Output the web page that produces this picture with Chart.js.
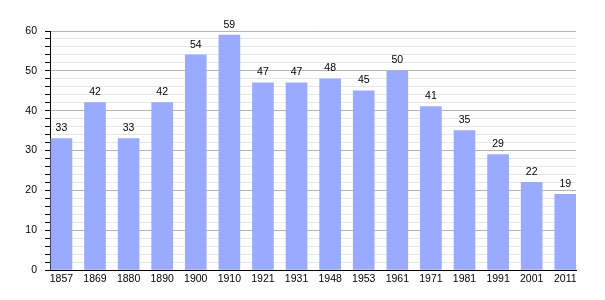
<!DOCTYPE html>
<html>
<head>
<meta charset="utf-8">
<script src="https://cdn.jsdelivr.net/npm/chart.js@4/dist/chart.umd.min.js"></script>
<style>
  html,body{margin:0;padding:0;background:#fff;}
  #wrap{width:605px;height:300px;}
</style>
</head>
<body>
<div id="wrap"><canvas id="c" width="605" height="300"></canvas></div>
<script>
const years = ['1857','1869','1880','1890','1900','1910','1921','1931','1948','1953','1961','1971','1981','1991','2001','2011'];
const population = [33,42,33,42,54,59,47,47,48,45,50,41,35,29,22,19];
const yMin = 0, yMax = 60, yStep = 2, yMajor = 10;

const font = { family: '"Liberation Sans", Arial, sans-serif', size: 10.5 };

// number above each bar
const valueLabels = {
  id: 'valueLabels',
  afterDatasetsDraw(chart){
    const ctx = chart.ctx;
    const meta = chart.getDatasetMeta(0);
    ctx.save();
    ctx.font = `${font.size}px ${font.family}`;
    ctx.fillStyle = '#000';
    ctx.textAlign = 'center';
    ctx.textBaseline = 'bottom';
    meta.data.forEach((bar, i)=>{
      ctx.fillText(String(population[i]), bar.x, bar.y - 5);
    });
    ctx.restore();
  }
};

new Chart(document.getElementById('c').getContext('2d'), {
  type: 'bar',
  data: {
    datasets: [{
      data: population.map((v,i)=>({x:i, y:v})),
      backgroundColor: '#99aaff',
      borderWidth: 0,
      barThickness: 21
    }]
  },
  options: {
    responsive: false,
    animation: false,
    layout: { padding: { top: 31, right: 29, left: 0, bottom: 0 } },
    plugins: { legend: { display: false }, tooltip: { enabled: false } },
    scales: {
      x: {
        type: 'linear',
        offset: false,
        min: -0.34, max: 15.32,
        afterFit(s){ s.height = 30; },
        grid: { drawOnChartArea: false, drawTicks: false, offset: false },
        border: { display: true, color: '#000', width: 1 },
        ticks: {
          stepSize: 1, includeBounds: false, autoSkip: false, maxRotation: 0, maxTicksLimit: 100,
          padding: 3, color: '#000', font,
          callback: v => years[v] ?? ''
        }
      },
      y: {
        min: yMin, max: yMax,
        afterFit(s){ s.width = 50; },
        grid: {
          color: c => (c.tick && c.tick.value % yMajor === 0) ? '#b4b4b4' : '#e6e6e6',
          tickColor: '#000', tickLength: 5
        },
        border: { display: true, color: '#000', width: 1 },
        ticks: {
          stepSize: yStep, autoSkip: false, maxTicksLimit: 100, padding: 8, color: '#000', font,
          callback: v => v % yMajor === 0 ? v : ''
        }
      }
    }
  },
  plugins: [valueLabels]
});
</script>
</body>
</html>
